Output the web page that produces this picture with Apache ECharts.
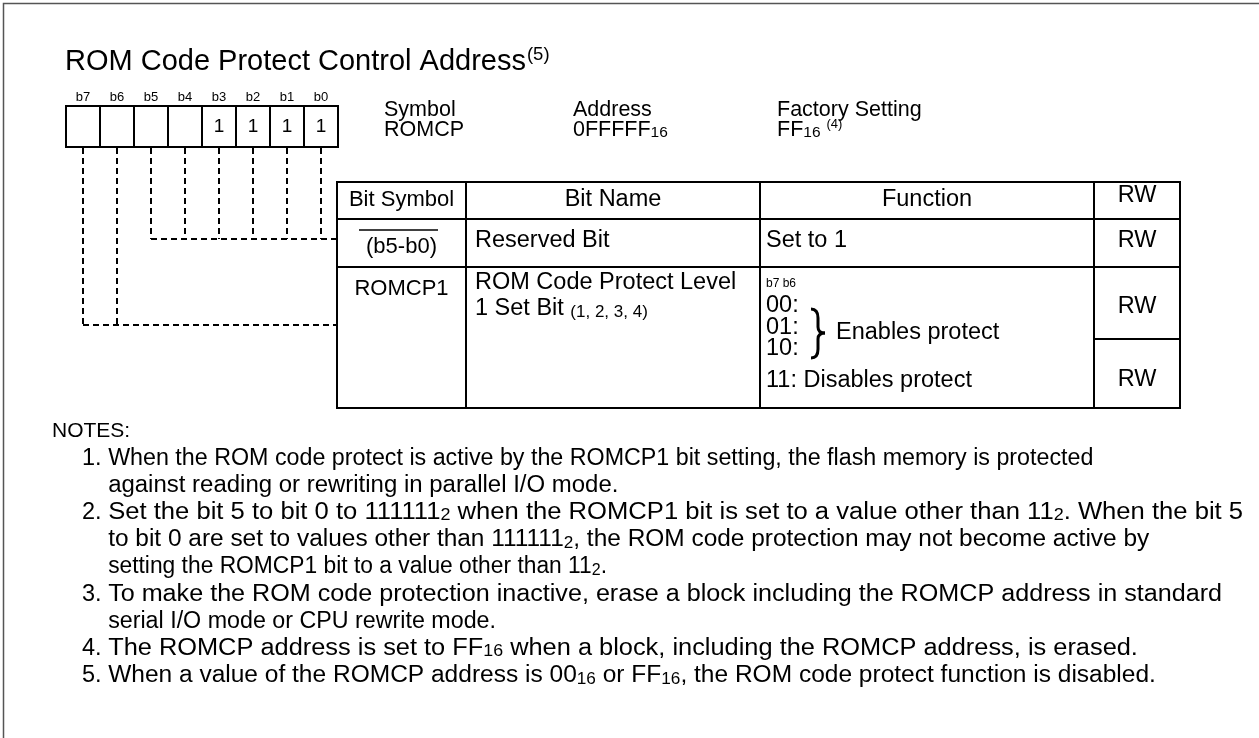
<!DOCTYPE html>
<html><head><meta charset="utf-8">
<script src="https://cdn.jsdelivr.net/npm/echarts@6/dist/echarts.min.js"></script>
<style>html,body{margin:0;padding:0;background:#fff}#c{width:1259px;height:738px}</style>
</head><body><div id="c"></div>
<script>
// ---- data ----
const titleText = 'ROM Code Protect Control Address';
const titleNote = '(5)';
const bitLabels = ['b7','b6','b5','b4','b3','b2','b1','b0'];
const bitValues = ['','','','','1','1','1','1'];
const infoLabels = ['Symbol','Address','Factory Setting'];
const infoValues = ['ROMCP','0FFFFF_{16}','FF_{16} ^{(4)}'];
const tableHeader = ['Bit Symbol','Bit Name','Function','RW'];
const row1 = ['(b5-b0)','Reserved Bit','Set to 1','RW'];
const row2Symbol = 'ROMCP1';
const row2Name = ['ROM Code Protect Level','1 Set Bit _{(1, 2, 3, 4)}'];
const row2FuncHead = 'b7 b6';
const row2Func = ['00:','01:','10:','11: Disables protect'];
const row2Brace = 'Enables protect';
const row2RW = ['RW','RW'];
const notesTitle = 'NOTES:';
const notes = [
  ['1.', ['When the ROM code protect is active by the ROMCP1 bit setting, the flash memory is protected',
          'against reading or rewriting in parallel I/O mode.']],
  ['2.', ['Set the bit 5 to bit 0 to 111111_{2} when the ROMCP1 bit is set to a value other than 11_{2}. When the bit 5',
          'to bit 0 are set to values other than 111111_{2}, the ROM code protection may not become active by',
          'setting the ROMCP1 bit to a value other than 11_{2}.']],
  ['3.', ['To make the ROM code protection inactive, erase a block including the ROMCP address in standard',
          'serial I/O mode or CPU rewrite mode.']],
  ['4.', ['The ROMCP address is set to FF_{16} when a block, including the ROMCP address, is erased.']],
  ['5.', ['When a value of the ROMCP address is 00_{16} or FF_{16}, the ROM code protect function is disabled.']]
];
// layout: horizontal stretch per note line (reference glyph spacing is uneven)
const noteLineStretch = [0.99, 1.02, 1.09, 1.04, 0.97, 1.07, 0.99, 1.08, 1.043];

// ---- helpers ----
const FONT = '"Liberation Sans", Arial, Helvetica, sans-serif';
const cv = document.createElement('canvas').getContext('2d');
function measure(t, size) { cv.font = size + 'px ' + FONT; return cv.measureText(t).width; }
const els = [];
function text(t, x, y, size, align, sx) {
  els.push({type:'text', x:x, y:y, silent:true, scaleX: sx || 1,
    style:{text:t, font: size + 'px ' + FONT, fill:'#000', align: align || 'left', verticalAlign:'middle'}});
}
function parse(str) {
  const out = []; const re = /_\{([^}]*)\}|\^\{([^}]*)\}/g; let last = 0, m;
  while ((m = re.exec(str))) {
    if (m.index > last) out.push({t: str.slice(last, m.index), k: 'n'});
    if (m[1] !== undefined) out.push({t: m[1], k: 's'}); else out.push({t: m[2], k: 'p'});
    last = re.lastIndex;
  }
  if (last < str.length) out.push({t: str.slice(last), k: 'n'});
  return out;
}
function runs(str, x, y, size, subSize, supSize, align, sx) {
  sx = sx || 1;
  const segs = parse(str);
  const sz = s => s.k === 'n' ? size : (s.k === 's' ? subSize : supSize);
  let total = 0; segs.forEach(s => total += measure(s.t, sz(s)) * sx);
  let cx = align === 'center' ? x - total / 2 : x;
  segs.forEach(s => {
    const z = sz(s);
    let yy = y;
    if (s.k === 's') yy = y + 0.31 * (size - z) + 1;
    if (s.k === 'p') yy = y - 0.28 * size;
    text(s.t, cx, yy, z, 'left', sx);
    cx += measure(s.t, z) * sx;
  });
}
function line(x1, y1, x2, y2, w, dash) {
  els.push({type:'line', silent:true, shape:{x1, y1, x2, y2},
    style:{stroke:'#000', lineWidth:w, lineDash: dash || null}});
}
function rect(x, y, w, h, lw, stroke) {
  els.push({type:'rect', silent:true, shape:{x, y, width:w, height:h},
    style:{fill:'none', stroke: stroke || '#000', lineWidth: lw}});
}
function curve(x1,y1,cx1,cy1,cx2,cy2,x2,y2,w){
  els.push({type:'bezierCurve', silent:true, shape:{x1,y1,cpx1:cx1,cpy1:cy1,cpx2:cx2,cpy2:cy2,x2,y2},
    style:{stroke:'#000', lineWidth:w, fill:'none'}});
}

// ---- layout ----
rect(3.5, 3.5, 1300, 800, 1.5, '#555');

// title
const TS = 29;
text(titleText, 65, 62, TS);
text(titleNote, 65 + measure(titleText, TS) + 1, 55, 18.5);

// bit register boxes
const bx0 = 66, bw = 34, by0 = 106, bh = 41;
bitLabels.forEach((b, i) => {
  const cx = bx0 + bw * i + bw / 2;
  text(b, cx, 97, 13, 'center');
  if (bitValues[i]) text(bitValues[i], cx, 127, 19, 'center');
});
rect(bx0, by0, bw * 8, bh, 2);
for (let i = 1; i < 8; i++) line(bx0 + bw * i, by0, bx0 + bw * i, by0 + bh, 2);

// info fields
const infoX = [384, 573, 777];
infoLabels.forEach((l, i) => {
  text(l, infoX[i], 110, 21.5);
  runs(infoValues[i], infoX[i], 130, 21.5, 15.5, 13, 'left');
});

// table
const tL = 337, tR = 1180, tT = 182, tB = 408;
const cols = [tL, 466, 760, 1094, tR];
const rH = 219, r1 = 267, rwSplit = 339;
// dashed leaders
const dash = [6, 4];
for (let i = 0; i < 8; i++) {
  const cx = bx0 + bw * i + bw / 2;
  line(cx, by0 + bh + 1, cx, i < 2 ? 325 : 239, 2, dash);
}
line(bx0 + bw * 2 + bw / 2, 239, tL, 239, 2, dash);
line(bx0 + bw / 2, 325, tL, 325, 2, dash);

rect(tL, tT, tR - tL, tB - tT, 2);
for (let i = 1; i < 4; i++) line(cols[i], tT, cols[i], tB, 2);
line(tL, rH, tR, rH, 2);
line(tL, r1, tR, r1, 2);
line(cols[3], rwSplit, tR, rwSplit, 2);

const FS = 23.5;
const ctr = i => (cols[i] + cols[i + 1]) / 2;
tableHeader.forEach((h, i) => text(h, ctr(i), i === 3 ? 196 : 200, i === 0 ? FS - 1.5 : FS, 'center'));
// row 1
text(row1[0], ctr(0), 247, FS - 1.5, 'center');
line(359, 230, 438, 230, 1.5);
text(row1[1], 475, 241, FS);
text(row1[2], 766, 241, FS);
text(row1[3], ctr(3), 241, FS, 'center');
// row 2
text(row2Symbol, ctr(0), 289, FS - 1.5, 'center');
runs(row2Name[0], 475, 283, FS, 17, 12, 'left');
runs(row2Name[1], 475, 309, FS, 17, 12, 'left');
text(row2FuncHead, 766, 284, 12);
const fy = [306, 328, 349, 381];
row2Func.forEach((f, i) => text(f, 766, fy[i], FS));
// brace
const bxL = 811, bxM = 818, bxR = 825, byT = 309, byM = 333, byB = 358;
curve(bxL, byT, bxL + 5, byT, bxM, byT + 3, bxM, byT + 9, 3);
line(bxM, byT + 9, bxM, byM - 6, 3);
curve(bxM, byM - 6, bxM, byM - 1, bxM + 3, byM, bxR, byM, 3);
curve(bxR, byM, bxM + 3, byM, bxM, byM + 1, bxM, byM + 6, 3);
line(bxM, byM + 6, bxM, byB - 9, 3);
curve(bxM, byB - 9, bxM, byB - 3, bxL + 5, byB, bxL, byB, 3);
text(row2Brace, 836, 333, FS);
text(row2RW[0], ctr(3), 307, FS, 'center');
text(row2RW[1], ctr(3), 380, FS, 'center');

// notes
const NS = 23.5, NP = 27.2;
const nx = 82, tx = nx + measure('1. ', NS);
let ny = 431, li = 0;
text(notesTitle, 52, ny, 21);
notes.forEach(n => {
  n[1].forEach((l, j) => {
    ny += NP;
    if (j === 0) text(n[0], nx, ny, NS);
    runs(l, tx, ny, NS, 16.5, 12, 'left', noteLineStretch[li++]);
  });
});

const chart = echarts.init(document.getElementById('c'), null, {renderer: 'canvas'});
chart.setOption({animation: false, backgroundColor: '#fff', graphic: {elements: els}});
</script>
</body></html>
